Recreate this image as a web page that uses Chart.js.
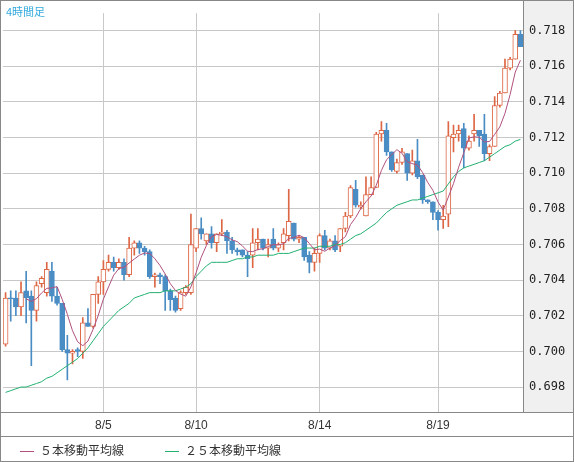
<!DOCTYPE html>
<html lang="ja">
<head>
<meta charset="UTF-8">
<title>4時間足</title>
<script src="https://cdn.jsdelivr.net/npm/chart.js"></script>
<style>
  body { margin: 0; background: #fff; font-family: "Noto Sans CJK JP", sans-serif; }
  #wrap { position: relative; width: 574px; height: 462px; }
  #title { position: absolute; left: 6px; top: 3px; font-size: 11px; color: #33aadd; }
  #legend { position: absolute; left: 0; top: 437px; width: 574px; height: 25px; font-size: 12px; color: #333; }
  .item { position: absolute; top: 4px; }
  .item i { display: inline-block; width: 14px; height: 1px; vertical-align: middle; margin-right: 6px; }
</style>
</head>
<body>
<div id="wrap">
  <canvas id="c" width="574" height="462"></canvas>
  <div id="title">4時間足</div>
  <div id="legend">
    <span class="item" style="left:20px"><i style="background:#b0507e"></i>５本移動平均線</span>
    <span class="item" style="left:165px"><i style="background:#22b070"></i>２５本移動平均線</span>
  </div>
</div>
<script>
// OHLC per 4h candle
const opens  = [0.7004,0.7030,0.7030,0.7025,0.7034,0.7031,0.7023,0.7038,0.7033,0.7045,0.7031,0.7027,0.7001,0.6999,0.7001,0.7000,0.7016,0.7014,0.7032,0.7039,
  0.7046,0.7050,0.7047,0.7050,0.7043,0.7058,0.7061,0.7058,0.7056,0.7042,0.7043,0.7042,0.7034,0.7030,0.7024,0.7033,0.7033,0.7058,0.7069,0.7062,
  0.7066,0.7061,0.7066,0.7067,0.7062,0.7057,0.7057,0.7054,0.7054,0.7061,0.7063,0.7058,0.7063,0.7058,0.7061,0.7065,0.7072,0.7063,0.7064,0.7054,
  0.7050,0.7055,0.7065,0.7058,0.7062,0.7059,0.7069,0.7076,0.7091,0.7081,0.7076,0.7088,0.7092,0.7122,0.7124,0.7112,0.7101,0.7106,0.7111,0.7100,
  0.7107,0.7099,0.7085,0.7084,0.7078,0.7074,0.7077,0.7120,0.7122,0.7125,0.7114,0.7122,0.7124,0.7122,0.7111,0.7115,0.7138,0.7145,0.7159,0.7164,0.7178];
const highs  = [0.7033,0.7034,0.7034,0.7039,0.7045,0.7034,0.7039,0.7042,0.7050,0.7050,0.7036,0.7027,0.7009,0.7001,0.7002,0.7019,0.7024,0.7032,0.7042,0.7051,
  0.7054,0.7053,0.7052,0.7052,0.7064,0.7062,0.7062,0.7059,0.7057,0.7044,0.7044,0.7043,0.7035,0.7031,0.7034,0.7037,0.7077,0.7069,0.7075,0.7066,
  0.7070,0.7066,0.7074,0.7068,0.7064,0.7058,0.7057,0.7056,0.7069,0.7069,0.7063,0.7063,0.7069,0.7061,0.7069,0.7091,0.7072,0.7065,0.7064,0.7056,
  0.7058,0.7066,0.7068,0.7063,0.7065,0.7069,0.7078,0.7093,0.7096,0.7084,0.7098,0.7098,0.7123,0.7129,0.7128,0.7112,0.7108,0.7114,0.7111,0.7113,
  0.7119,0.7099,0.7085,0.7084,0.7079,0.7082,0.7129,0.7127,0.7127,0.7128,0.7121,0.7133,0.7124,0.7133,0.7116,0.7143,0.7146,0.7164,0.7165,0.7180,0.7180];
const lows   = [0.7003,0.7017,0.7020,0.7020,0.7016,0.6992,0.7017,0.7036,0.7031,0.7028,0.7026,0.7000,0.6984,0.6993,0.6997,0.6996,0.7014,0.7013,0.7027,0.7032,
  0.7045,0.7045,0.7046,0.7040,0.7042,0.7054,0.7055,0.7054,0.7041,0.7036,0.7038,0.7023,0.7023,0.7022,0.7023,0.7032,0.7032,0.7056,0.7063,0.7060,
  0.7058,0.7056,0.7065,0.7055,0.7055,0.7054,0.7053,0.7042,0.7047,0.7057,0.7057,0.7053,0.7057,0.7056,0.7057,0.7062,0.7062,0.7061,0.7051,0.7044,
  0.7045,0.7050,0.7057,0.7057,0.7056,0.7056,0.7067,0.7075,0.7081,0.7080,0.7076,0.7088,0.7092,0.7118,0.7110,0.7101,0.7100,0.7105,0.7096,0.7099,
  0.7097,0.7083,0.7083,0.7074,0.7068,0.7069,0.7070,0.7112,0.7118,0.7103,0.7113,0.7118,0.7115,0.7107,0.7107,0.7115,0.7137,0.7145,0.7158,0.7164,0.7171];
const closes = [0.7030,0.70295,0.7025,0.7033,0.7030,0.7023,0.7037,0.7041,0.7046,0.7031,0.7027,0.7001,0.6999,0.7000,0.7000,0.7016,0.7014,0.7032,0.7039,0.7046,
  0.7050,0.7047,0.7050,0.7043,0.7058,0.7061,0.7058,0.7056,0.7042,0.7043,0.7042,0.7034,0.7029,0.7023,0.7033,0.7036,0.7060,0.7069,0.7066,0.7066,
  0.7061,0.7066,0.7067,0.7062,0.7057,0.7056,0.7054,0.7052,0.7061,0.7063,0.7058,0.7060,0.7058,0.7060,0.7066,0.7073,0.7063,0.7064,0.7053,0.7050,
  0.7055,0.7065,0.7058,0.7062,0.7057,0.7069,0.7076,0.7092,0.7082,0.7082,0.7088,0.7092,0.7122,0.7124,0.7112,0.7102,0.7106,0.7112,0.7100,0.7107,
  0.7098,0.7085,0.7084,0.7078,0.7074,0.7076,0.7121,0.7122,0.7124,0.7114,0.7118,0.7124,0.7121,0.7111,0.7115,0.7138,0.7145,0.7159,0.7164,0.7178,0.7171];
// 25-period average
const ma25 = [0.6977,0.6978,0.6979,0.6980,0.6980,0.6981,0.6982,
  0.6983,0.6985,0.6986,0.6988,0.6990,0.6992,0.6994,0.6996,
  0.6999,0.7002,0.7006,0.7010,0.7014,
  0.7017,0.7020,0.7023,0.7025,0.7027,
  0.7030,0.7031,0.7032,0.7033,0.7033,
  0.7033,0.7034,0.7034,0.7034,0.7035,0.7036,
  0.7038,0.7042,0.7045,0.7048,0.7050,
  0.7050,0.7050,0.7050,0.7051,0.7052,0.7052,
  0.7053,0.7053,0.7054,0.7054,0.7054,0.7054,
  0.7055,0.7055,0.7055,0.7056,0.7057,0.7058,0.7058,
  0.7058,0.7059,0.7059,0.7059,0.7060,0.7060,0.7061,
  0.7063,0.7065,0.7066,0.7068,0.7070,0.7072,
  0.7075,0.7078,0.7080,0.7082,0.7083,0.7084,
  0.7085,0.7085,0.7086,0.7087,0.7088,0.7089,0.7090,
  0.7094,0.7098,0.7101,0.7103,0.7104,0.7105,
  0.7106,0.7107,0.7109,0.7111,0.7113,
  0.7115,0.7116,0.7118,0.7119];
const dateTicks = { 19: '8/5', 37: '8/10', 61: '8/14', 84: '8/19' };
const yTicks = [0.698, 0.700, 0.702, 0.704, 0.706, 0.708, 0.710, 0.712, 0.714, 0.716, 0.718];

const labels = closes.map((_, i) => dateTicks[i] || '');
const up = closes.map((c, i) => c >= opens[i]);
const RED = '#dd6644', BLUE = '#4a8cc4';

// 5 period simple moving average of the closes
const ma5 = closes.map((_, i) => {
  if (i < 4) return null;
  let s = 0;
  for (let k = i - 4; k <= i; k++) s += closes[k];
  return s / 5;
});

const panels = {
  id: 'panels',
  beforeDraw(chart) {
    const { ctx, chartArea: a } = chart;
    ctx.save();
    ctx.fillStyle = '#f0f0f0';
    ctx.fillRect(a.right, 0, chart.width - a.right, a.bottom);
    ctx.strokeStyle = '#888';
    ctx.lineWidth = 1;
    ctx.strokeRect(0.5, 0.5, chart.width - 1, chart.height - 1);
    ctx.beginPath();
    ctx.moveTo(a.right + 0.5, 0); ctx.lineTo(a.right + 0.5, a.bottom);
    ctx.moveTo(0, a.bottom + 0.5); ctx.lineTo(chart.width, a.bottom + 0.5);
    ctx.moveTo(0, 436.5); ctx.lineTo(chart.width, 436.5);
    ctx.stroke();
    ctx.restore();
  }
};

new Chart(document.getElementById('c'), {
  type: 'bar',
  data: {
    labels: labels,
    datasets: [
      { type: 'line', data: ma5, borderColor: '#b0507e', borderWidth: 1, pointRadius: 0, order: 1 },
      { type: 'line', data: ma25, borderColor: '#22b070', borderWidth: 1, pointRadius: 0, order: 1 },
      { data: closes.map((c, i) => [opens[i], c]), grouped: false, barThickness: 5, minBarLength: 1,
        backgroundColor: up.map(u => u ? '#fff' : BLUE), borderColor: up.map(u => u ? RED : BLUE),
        borderWidth: 1, borderSkipped: false, order: 2 },
      { data: closes.map((_, i) => [lows[i], highs[i]]), grouped: false, barThickness: 1,
        backgroundColor: up.map(u => u ? RED : BLUE), order: 3 }
    ]
  },
  options: {
    responsive: false,
    animation: false,
    layout: { padding: { left: 3, top: -13, right: 0, bottom: 26 } },
    plugins: { legend: { display: false }, tooltip: { enabled: false } },
    scales: {
      x: {
        offset: true,
        grid: { color: '#c8c8c8', drawTicks: false, offset: false },
        border: { display: false },
        ticks: { autoSkip: false, maxRotation: 0, color: '#333', font: { size: 12 }, padding: 6,
          callback: (v, i) => dateTicks[i] || null },
        afterFit: s => { s.height = 24; }
      },
      y: {
        position: 'right',
        min: 0.6966, max: 0.71898,
        grid: { color: '#c8c8c8', drawTicks: false },
        border: { display: false },
        afterBuildTicks: s => { s.ticks = yTicks.map(v => ({ value: v })); },
        ticks: { color: '#222', padding: 6, font: { family: 'DejaVu Sans Mono', size: 12 },
          callback: v => v.toFixed(3) },
        afterFit: s => { s.width = 51; }
      }
    }
  },
  plugins: [panels]
});
</script>
</body>
</html>
